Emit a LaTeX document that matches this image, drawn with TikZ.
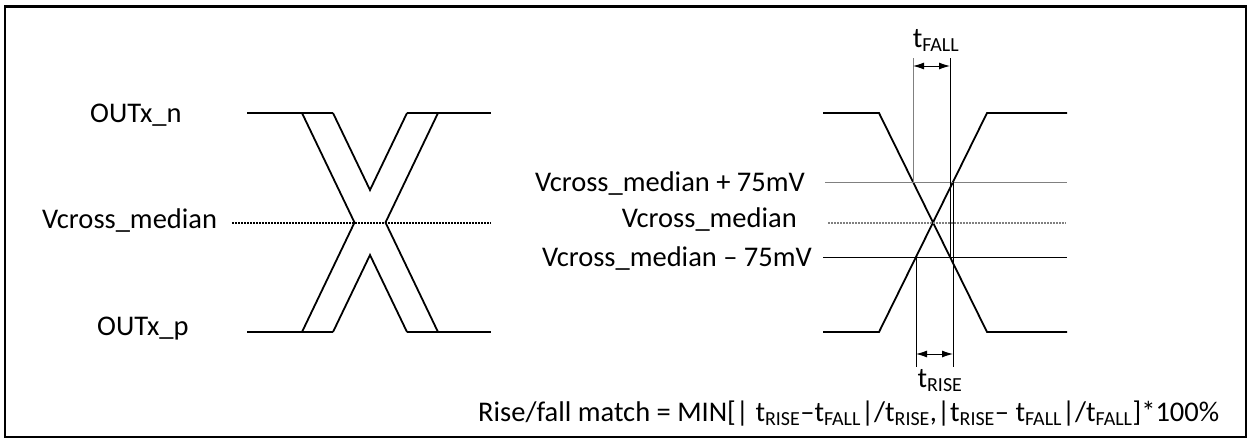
\documentclass[tikz,border=0pt]{standalone}
\usepackage{fontspec}
\setmainfont{Carlito}
\usetikzlibrary{arrows.meta}

\tikzset{
  wave/.style={line width=1.8pt},
  thinline/.style={line width=0.9pt},
  medline/.style={line width=1.3pt, dash pattern=on 1.5pt off 1.5pt},
  dimarrow/.style={line width=0.9pt,{Latex[length=11pt,width=7pt]}-{Latex[length=11pt,width=7pt]}},
  lbl/.style={font=\fontsize{28.5}{32}\selectfont, inner sep=0pt},
}

\begin{document}
\begin{tikzpicture}[x=1pt,y=-1pt]
    \useasboundingbox (0,0) rectangle (1249,440);

    % Outer frame
    \draw[line width=2.5pt] (5,6.5) rectangle (1246,437);

    % Left: OUTx_n and OUTx_p levels
    \draw[wave] (247,113) -- (333,113);
    \draw[wave] (407,113) -- (491,113);
    \draw[wave] (247,332) -- (333,332);
    \draw[wave] (407,332) -- (491,332);

    % Left: crossing band
    \draw[wave] (302,113) -- (354.5,222.5) -- (302,332);
    \draw[wave] (438,113) -- (385.5,222.5) -- (438,332);
    \draw[wave] (333,113) -- (370,190) -- (407,113);
    \draw[wave] (333,332) -- (370,255) -- (407,332);

    % Left: median level
    \draw[medline] (232,223) -- (491,223);

    % Left labels
    \node[lbl, anchor=base west] (outn) at (90,122) {OUTx\_n};
    \node[lbl, anchor=base west] (vmedl) at (42,228) {Vcross\_median};
    \node[lbl, anchor=base west] (outp) at (97,335) {OUTx\_p};

    % Right: falling and rising edges
    \draw[wave] (823,113) -- (879,113) -- (987,332) -- (1067,332);
    \draw[wave] (823,332) -- (879,332) -- (987,113) -- (1067,113);

    % Right: threshold levels
    \draw[thinline, gray] (825,182) -- (1067,182);
    \draw[medline, gray] (828,223) -- (1066,223);
    \draw[thinline] (823,257) -- (1067,257);

    % Right labels
    \node[lbl, anchor=base east] (vhi) at (805,191) {Vcross\_median + 75mV};
    \node[lbl, anchor=base east] (vmedr) at (797,227) {Vcross\_median};
    \node[lbl, anchor=base east] (vlo) at (812,266) {Vcross\_median – 75mV};

    % t_FALL
    \draw[thinline, gray] (913,58) -- (913,182);
    \draw[thinline] (950,58) -- (950,257);
    \draw[dimarrow] (913,66) -- (950,66);
    \node[lbl, anchor=base] (tfall) at (936,47) {t\textsubscript{FALL}};

    % t_RISE
    \draw[thinline] (916,257) -- (916,367);
    \draw[thinline] (953,182) -- (953,367);
    \draw[dimarrow] (916,354) -- (953,354);
    \node[lbl, anchor=base] (trise) at (940,387) {t\textsubscript{RISE}};

    % Match formula
    \node[lbl, anchor=base west] (formula) at (478,421)
      {Rise/fall match = MIN[| t\textsubscript{RISE}–t\textsubscript{FALL}|/t\textsubscript{RISE},|t\textsubscript{RISE}– t\textsubscript{FALL}|/t\textsubscript{FALL}]*100\%};

\end{tikzpicture}
\end{document}
